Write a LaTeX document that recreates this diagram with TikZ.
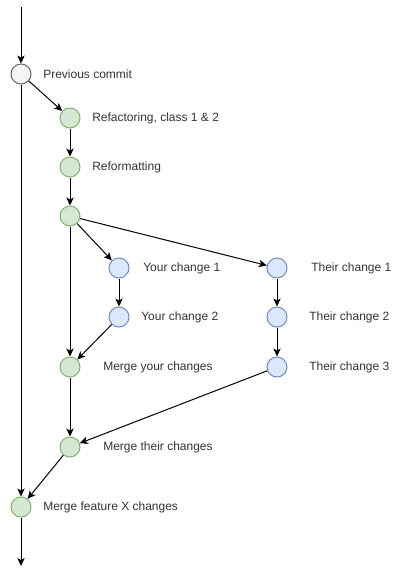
\documentclass[tikz,border=0pt]{standalone}
\usepackage{fontspec}
\setmainfont{Liberation Sans}
\usetikzlibrary{arrows.meta}
\definecolor{gfill}{HTML}{F5F5F5}\definecolor{gline}{HTML}{666666}
\definecolor{grfill}{HTML}{D5E8D4}\definecolor{grline}{HTML}{82B366}
\definecolor{bfill}{HTML}{DAE8FC}\definecolor{bline}{HTML}{6C8EBF}
\definecolor{txt}{HTML}{333333}
\tikzset{
  commit/.style={circle,minimum size=15pt,inner sep=0pt,line width=0.75pt},
  grey/.style={commit,draw=gline,fill=gfill},
  green/.style={commit,draw=grline,fill=grfill},
  blue/.style={commit,draw=bline,fill=bfill},
  lbl/.style={anchor=west,inner sep=0pt,font=\fontsize{9pt}{11pt}\selectfont,text=txt},
  arr/.style={draw=black,line width=0.75pt,-{Stealth[length=6pt,width=5.5pt,inset=1.5pt]}},
  ln/.style={draw=black,line width=0.75pt}
}
\begin{document}
\begin{tikzpicture}[x=0.75pt,y=-0.75pt]
\useasboundingbox (0,0) rectangle (410,576);
\coordinate (top) at (21,7);
\coordinate (bot) at (21,566);
\node[grey] (pc) at (21,74) {};
\node[green] (rf) at (70,118) {};
\node[green] (rm) at (70,167) {};
\node[green] (br) at (70,216) {};
\node[blue] (y1) at (119,268) {};
\node[blue] (y2) at (119,317) {};
\node[blue] (t1) at (277,268) {};
\node[blue] (t2) at (277,317) {};
\node[blue] (t3) at (277,367) {};
\node[green] (my) at (70,367) {};
\node[green] (mt) at (70,447) {};
\node[green] (mx) at (21,507) {};
\node[lbl] (lpc) at (43,74) {Previous commit};
\node[lbl] (lrf) at (92,118) {Refactoring, class 1 \& 2};
\node[lbl] (lrm) at (92,167) {Reformatting};
\node[lbl] (ly1) at (143,268) {Your change 1};
\node[lbl] (ly2) at (141,317) {Your change 2};
\node[lbl] (lt1) at (311,268) {Their change 1};
\node[lbl] (lt2) at (309,317) {Their change 2};
\node[lbl] (lt3) at (309,367) {Their change 3};
\node[lbl] (lmy) at (103,367) {Merge your changes};
\node[lbl] (lmt) at (103,447) {Merge their changes};
\node[lbl] (lmx) at (43,507) {Merge feature X changes};
\draw[arr] (top) -- (pc);
\draw[arr] (pc) -- (rf);
\draw[arr] (pc) -- (mx);
\draw[arr] (rf) -- (rm);
\draw[arr] (rm) -- (br);
\draw[arr] (br) -- (y1);
\draw[arr] (br) -- (t1);
\draw[arr] (br) -- (my);
\draw[arr] (y1) -- (y2);
\draw[arr] (y2) -- (my);
\draw[arr] (t1) -- (t2);
\draw[arr] (t2) -- (t3);
\draw[arr] (t3) -- (mt);
\draw[arr] (my) -- (mt);
\draw[arr] (mt) -- (mx);
\draw[arr] (mx) -- (bot);
\end{tikzpicture}
\end{document}
